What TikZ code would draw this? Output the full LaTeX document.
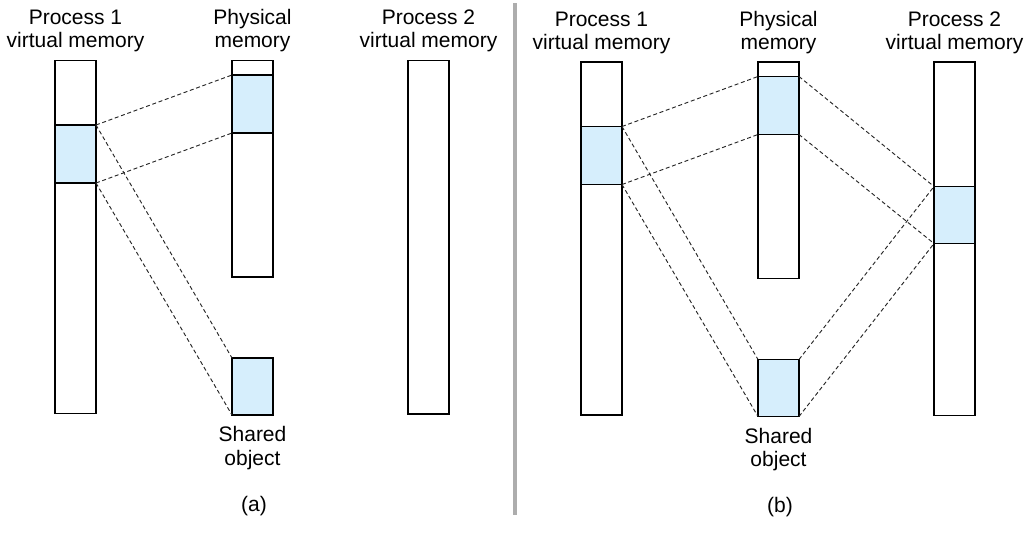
\documentclass[tikz,border=0pt]{standalone}
\usepackage{fontspec}
\setmainfont{Liberation Sans}
\usetikzlibrary{positioning}
\definecolor{shade}{RGB}{214,238,252}
\def\ux{0.75pt}
\tikzset{
     mem/.style={draw,line width=1pt,inner sep=0pt,outer sep=0pt,minimum width=41*\ux,anchor=north west},
     memfill/.style={mem,fill=shade},
     lbl/.style={align=center,inner sep=0pt,font=\fontsize{15.75}{17.5}\selectfont},
     map/.style={dash pattern=on 3pt off 2pt,line width=0.7pt,black!85},
}

\begin{document}
\begin{tikzpicture}[x=\ux, y=-\ux]
      \useasboundingbox (0,0) rectangle (1032,533);

      % both panels share the same columns
      \foreach \p/\dx/\dy in {a/0/0, b/526/1.5}{
      \begin{scope}[shift={(\dx,\dy)}]
	 	\node[mem, minimum height=353*\ux] (p1\p) at (55,60.5) {};
	 	\node[memfill, minimum height=58*\ux] (p1s\p) at (55,125) {};
	 	\node[mem, minimum height=216.5*\ux] (ph\p) at (232,60.5) {};
	 	\node[memfill, minimum height=58*\ux] (phs\p) at (232,75) {};
	 	\node[memfill, minimum height=57*\ux] (so\p) at (232,358) {};
	 	\node[mem, minimum height=353.5*\ux] (p2\p) at (408,60.5) {};

		\node[lbl, above=6pt of p1\p] (l1\p) {Process 1\\virtual memory};
		\node[lbl, above=6pt of ph\p] (lph\p) {Physical\\memory};
		\node[lbl, above=6pt of p2\p] (l2\p) {Process 2\\virtual memory};
		\node[lbl, below=8.5pt of so\p] (lso\p) {Shared\\object};
		\node[lbl] (cap\p) at (254,506) {(\p)};
       \end{scope}
	}
	\node[memfill, minimum height=57*\ux] (p2sb) at (934,186.5) {};

	% divider
	\fill[black!32] (513,3) rectangle (517,515);

	\foreach \p in {a,b}{
		\draw[map] (p1s\p.north east) -- (phs\p.north west);
		\draw[map] (p1s\p.south east) -- (phs\p.south west);
		\draw[map] (p1s\p.north east) -- (so\p.north west);
		\draw[map] (p1s\p.south east) -- (so\p.south west);
	}
	\draw[map] (phsb.north east) -- (p2sb.north west);
	\draw[map] (phsb.south east) -- (p2sb.south west);
	\draw[map] (sob.north east) -- (p2sb.north west);
	\draw[map] (sob.south east) -- (p2sb.south west);

      \end{tikzpicture}
\end{document}
